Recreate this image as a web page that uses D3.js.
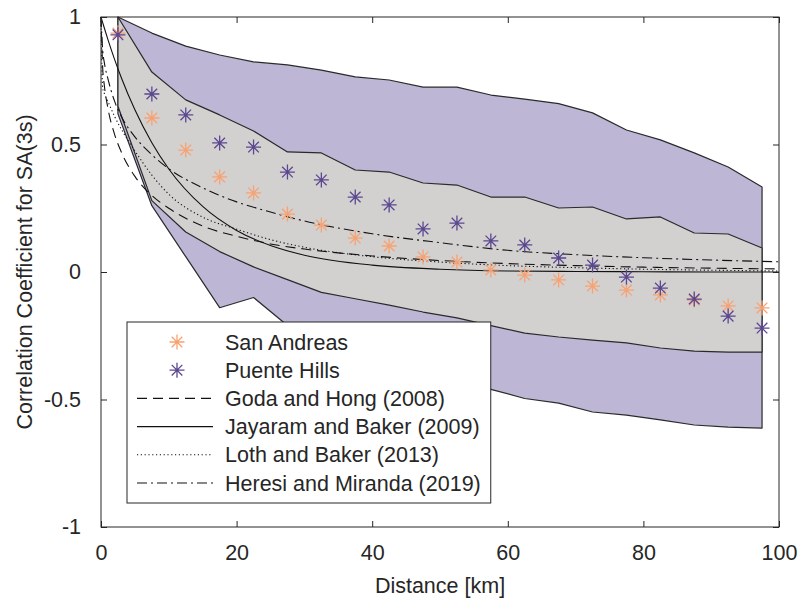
<!DOCTYPE html>
<html>
<head>
<meta charset="utf-8">
<script src="https://cdn.jsdelivr.net/npm/d3@7"></script>
<style>
  body { margin: 0; background: #fff; }
  text { font-family: "Liberation Sans", Arial, Helvetica, sans-serif; }
</style>
</head>
<body>
<svg id="chart" width="799" height="602"></svg>
<script>
// ---------- data ----------
const binDist = [2.5, 7.5, 12.5, 17.5, 22.5, 27.5, 32.5, 37.5, 42.5, 47.5, 52.5, 57.5, 62.5, 67.5, 72.5, 77.5, 82.5, 87.5, 92.5, 97.5];

const sanAndreas = [0.937, 0.604, 0.478, 0.373, 0.31, 0.227, 0.184, 0.133, 0.102, 0.059, 0.039, 0.008, -0.012, -0.031, -0.055, -0.071, -0.09, -0.11, -0.133, -0.141];
const puenteHills = [0.93, 0.698, 0.616, 0.506, 0.49, 0.392, 0.361, 0.294, 0.263, 0.169, 0.192, 0.122, 0.106, 0.055, 0.027, -0.02, -0.063, -0.106, -0.173, -0.22];

const outerUpper = [1.0, 0.937, 0.886, 0.851, 0.824, 0.812, 0.792, 0.765, 0.753, 0.725, 0.725, 0.694, 0.678, 0.66, 0.624, 0.557, 0.518, 0.467, 0.412, 0.333];
const outerLower = [0.62, 0.26, 0.06, -0.14, -0.10, -0.21, -0.27, -0.32, -0.37, -0.40, -0.43, -0.46, -0.496, -0.514, -0.549, -0.561, -0.58, -0.60, -0.608, -0.612];
const innerUpper = [1.0, 0.784, 0.675, 0.616, 0.553, 0.471, 0.467, 0.40, 0.392, 0.349, 0.341, 0.294, 0.294, 0.251, 0.255, 0.208, 0.216, 0.153, 0.149, 0.094];
const innerLower = [0.65, 0.28, 0.157, 0.08, 0.02, -0.03, -0.08, -0.105, -0.13, -0.157, -0.18, -0.21, -0.24, -0.255, -0.267, -0.278, -0.298, -0.31, -0.314, -0.314];

const curveDist = [0, 0.25, 0.5, 1, 2, 3, 5, 7.5, 10, 15, 20, 25, 30, 40, 50, 60, 70, 80, 90, 100];
const godaHong = [1, 0.80, 0.73, 0.645, 0.54, 0.47, 0.375, 0.30, 0.25, 0.18, 0.14, 0.11, 0.09, 0.063, 0.045, 0.033, 0.025, 0.019, 0.015, 0.012];
const jayaramBaker = [1, 0.978, 0.956, 0.913, 0.834, 0.762, 0.636, 0.507, 0.404, 0.257, 0.163, 0.104, 0.066, 0.027, 0.011, 0.004, 0.002, 0.001, 0.0, 0.0];
const lothBaker = [1, 0.72, 0.70, 0.67, 0.61, 0.56, 0.475, 0.38, 0.305, 0.215, 0.168, 0.127, 0.097, 0.06, 0.039, 0.025, 0.017, 0.011, 0.007, 0.004];
const heresiMiranda = [1, 0.87, 0.82, 0.76, 0.67, 0.61, 0.53, 0.46, 0.405, 0.33, 0.275, 0.235, 0.20, 0.15, 0.115, 0.085, 0.068, 0.056, 0.047, 0.04];

const xTicks = [0, 20, 40, 60, 80, 100];
const yTicks = [-1, -0.5, 0, 0.5, 1];
const yTickLabels = ["-1", "-0.5", "0", "0.5", "1"];

const legendLabels = ["San Andreas", "Puente Hills", "Goda and Hong (2008)", "Jayaram and Baker (2009)", "Loth and Baker (2013)", "Heresi and Miranda (2019)"];

// ---------- styles ----------
const colOuter = "#bdb6d5";
const colInner = "#d3d0d0";
const colSA = "#f8a272";
const colPH = "#5b4890";
const edge = "#2a2a2a";
const FS = 21.5;
const dashStyles = { goda: "10,6", jay: null, loth: "1.2,2.6", heresi: "10,4,2,4" };

// ---------- chart ----------
const svg = d3.select("#chart");
const x = d3.scaleLinear().domain([0, 100]).range([101, 779]);
const y = d3.scaleLinear().domain([-1, 1]).range([527, 17]);

const plot = svg.append("g");

function bandPoints(upper, lower) {
  const pts = binDist.map((d, i) => [x(d), y(upper[i])]);
  for (let i = binDist.length - 1; i >= 0; i--) pts.push([x(binDist[i]), y(lower[i])]);
  return pts;
}
plot.append("path")
  .attr("d", "M" + bandPoints(outerUpper, outerLower).join("L") + "Z")
  .attr("fill", colOuter).attr("stroke", edge).attr("stroke-width", 1.2).attr("stroke-linejoin", "round");
plot.append("path")
  .attr("d", "M" + bandPoints(innerUpper, innerLower).join("L") + "Z")
  .attr("fill", colInner).attr("stroke", edge).attr("stroke-width", 1.2).attr("stroke-linejoin", "round");

const lineGen = d3.line().x((d, i) => x(curveDist[i])).y(d => y(d)).curve(d3.curveMonotoneX);
const curves = [
  { vals: godaHong, dash: dashStyles.goda },
  { vals: jayaramBaker, dash: dashStyles.jay },
  { vals: lothBaker, dash: dashStyles.loth },
  { vals: heresiMiranda, dash: dashStyles.heresi }
];
curves.forEach(c => {
  plot.append("path").attr("d", lineGen(c.vals))
    .attr("fill", "none").attr("stroke", "#111").attr("stroke-width", 1.1)
    .attr("stroke-dasharray", c.dash);
});

function asterisk(g, cx, cy, r, color) {
  const d = [];
  for (let k = 0; k < 4; k++) {
    const a = k * Math.PI / 4;
    d.push(`M${cx - r * Math.cos(a)},${cy - r * Math.sin(a)}L${cx + r * Math.cos(a)},${cy + r * Math.sin(a)}`);
  }
  g.append("path").attr("d", d.join("")).attr("stroke", color).attr("stroke-width", 1.3).attr("fill", "none");
}
binDist.forEach((d, i) => asterisk(plot, x(d), y(sanAndreas[i]), 7.5, colSA));
binDist.forEach((d, i) => asterisk(plot, x(d), y(puenteHills[i]), 7.5, colPH));

// ---------- axes box ----------
const ax = svg.append("g");
ax.append("rect").attr("x", 101).attr("y", 17).attr("width", 678).attr("height", 510)
  .attr("fill", "none").attr("stroke", "#262626").attr("stroke-width", 1);
const gxb = ax.append("g").attr("transform", "translate(0,527)")
  .call(d3.axisBottom(x).tickValues(xTicks).tickSize(-6).tickPadding(18));
const gxt = ax.append("g").attr("transform", "translate(0,17)")
  .call(d3.axisTop(x).tickValues(xTicks).tickSize(-6).tickFormat(""));
const gyl = ax.append("g").attr("transform", "translate(101,0)")
  .call(d3.axisLeft(y).tickValues(yTicks).tickSize(-6).tickPadding(20).tickFormat((d, i) => yTickLabels[i]));
const gyr = ax.append("g").attr("transform", "translate(779,0)")
  .call(d3.axisRight(y).tickValues(yTicks).tickSize(-6).tickFormat(""));
[gxb, gxt, gyl, gyr].forEach(g => {
  g.select(".domain").remove();
  g.selectAll("line").attr("stroke", "#262626");
  g.selectAll("text").attr("font-size", FS).attr("fill", "#262626")
    .style("font-family", '"Liberation Sans", Arial, sans-serif');
});

svg.append("text").attr("x", 440).attr("y", 585).attr("dy", "0.35em").attr("text-anchor", "middle")
  .attr("font-size", FS).attr("fill", "#262626").text("Distance [km]");
svg.append("text").attr("transform", "translate(24,272) rotate(-90)").attr("dy", "0.35em").attr("text-anchor", "middle")
  .attr("font-size", FS).attr("fill", "#262626").text("Correlation Coefficient for SA(3s)");

// ---------- legend ----------
const lg = svg.append("g");
const lgX = 127, lgY = 322, rowH = 28.2;
const lgBox = lg.append("rect").attr("x", lgX).attr("y", lgY).attr("height", rowH * 5 + 40)
  .attr("fill", "#fff").attr("stroke", "#262626").attr("stroke-width", 1);
let maxW = 0;
legendLabels.forEach((lab, i) => {
  const cy = lgY + 20 + i * rowH;
  if (i === 0) asterisk(lg, 177, cy, 7.5, colSA);
  else if (i === 1) asterisk(lg, 177, cy, 7.5, colPH);
  else {
    const dash = [dashStyles.goda, dashStyles.jay, dashStyles.loth, dashStyles.heresi][i - 2];
    lg.append("line").attr("x1", 137).attr("x2", 213).attr("y1", cy).attr("y2", cy)
      .attr("stroke", "#111").attr("stroke-width", 1.1).attr("stroke-dasharray", dash);
  }
  const t = lg.append("text").attr("x", 225).attr("y", cy).attr("dy", "0.35em")
    .attr("font-size", FS).attr("fill", "#262626").text(lab);
  maxW = Math.max(maxW, t.node().getComputedTextLength());
});
lgBox.attr("width", 225 + maxW + 10 - lgX);
</script>
</body>
</html>
